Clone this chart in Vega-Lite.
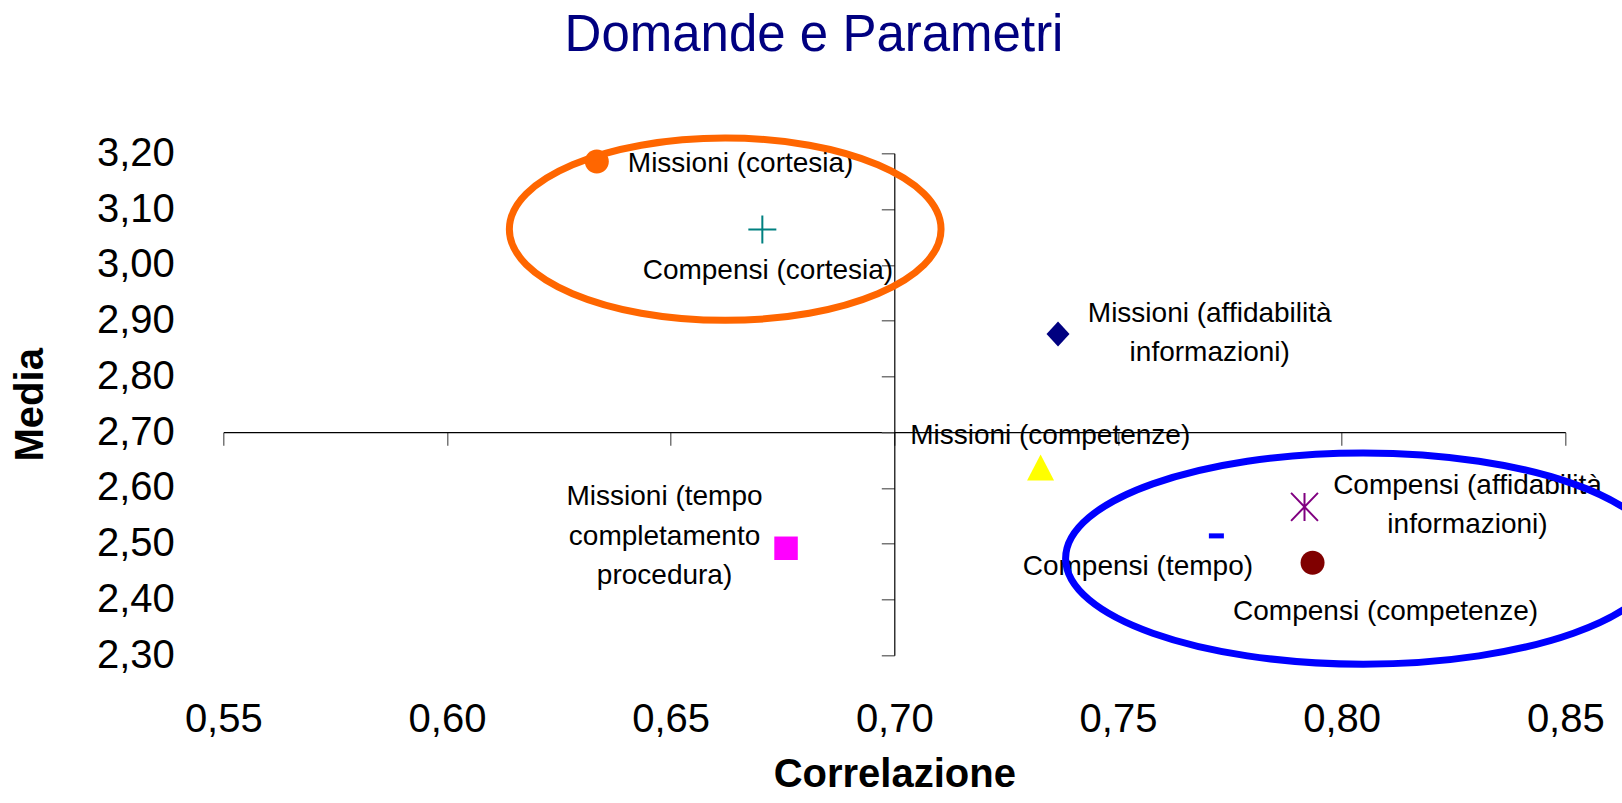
{
  "$schema": "https://vega.github.io/schema/vega-lite/v6.json",
  "width": 1342,
  "height": 502,
  "autosize": {"type": "none"},
  "padding": {"left": 223.3, "top": 153.3, "right": 56.7, "bottom": 147.7},
  "background": "white",
  "title": {
    "text": "Domande e Parametri",
    "font": "Liberation Sans",
    "fontSize": 51,
    "fontWeight": "normal",
    "color": "#000080",
    "frame": "group",
    "anchor": "middle",
    "dx": -80.3,
    "offset": 62
  },
  "config": {"view": {"stroke": null}, "axis": {"grid": false}},
  "datasets": {
    "punti": [
      {"id": "m_cortesia", "nome": "Missioni (cortesia)", "x": 0.6335, "y": 3.1855},
      {"id": "c_cortesia", "nome": "Compensi (cortesia)", "x": 0.6705, "y": 3.0632},
      {"id": "m_affidabilita", "nome": "Missioni (affidabilità\ninformazioni)", "x": 0.7366, "y": 2.8759},
      {"id": "m_competenze", "nome": "Missioni (competenze)", "x": 0.7327, "y": 2.6365},
      {"id": "m_tempo", "nome": "Missioni (tempo\ncompletamento\nprocedura)", "x": 0.6758, "y": 2.4919},
      {"id": "c_tempo", "nome": "Compensi (tempo)", "x": 0.772, "y": 2.5141},
      {"id": "c_affidabilita", "nome": "Compensi (affidabilità\ninformazioni)", "x": 0.7917, "y": 2.5661},
      {"id": "c_competenze", "nome": "Compensi (competenze)", "x": 0.7935, "y": 2.466}
    ],
    "anelli": [
      {"anello": "arancione", "x": 0.6622, "y": 3.0639},
      {"anello": "blu", "x": 0.8048, "y": 2.4735}
    ]
  },
  "data": {"name": "punti"},
  "encoding": {
    "x": {
      "field": "x",
      "type": "quantitative",
      "scale": {"domain": [0.55, 0.85], "nice": false, "zero": false},
      "axis": {
        "orient": "bottom",
        "offset": -223.1,
        "values": [0.55, 0.6, 0.65, 0.7, 0.75, 0.8, 0.85],
        "labelExpr": "replace(format(datum.value, '.2f'), '.', ',')",
        "labelFlush": false,
        "labelOverlap": false,
        "tickSize": 13,
        "tickColor": "#555555",
        "tickWidth": 1.2,
        "domainColor": "#000000",
        "domainWidth": 1.2,
        "labelPadding": 254,
        "labelFont": "Liberation Sans",
        "labelFontSize": 40,
        "labelColor": "#000000",
        "title": "Correlazione",
        "titleFont": "Liberation Sans",
        "titleFontSize": 40,
        "titleFontWeight": "bold",
        "titleColor": "#000000",
        "titleBaseline": "alphabetic",
        "titleY": 353.8,
        "grid": false
      }
    },
    "y": {
      "field": "y",
      "type": "quantitative",
      "scale": {"domain": [2.3, 3.2], "nice": false, "zero": false},
      "axis": {
        "orient": "left",
        "offset": -671,
        "values": [2.3, 2.4, 2.5, 2.6, 2.7, 2.8, 2.9, 3.0, 3.1, 3.2],
        "labelExpr": "replace(format(datum.value, '.2f'), '.', ',')",
        "labelFlush": false,
        "labelOverlap": false,
        "tickSize": 13,
        "tickColor": "#555555",
        "tickWidth": 1.2,
        "domainColor": "#000000",
        "domainWidth": 1.2,
        "labelPadding": 707,
        "labelFont": "Liberation Sans",
        "labelFontSize": 40,
        "labelColor": "#000000",
        "title": "Media",
        "titleFont": "Liberation Sans",
        "titleFontSize": 40,
        "titleFontWeight": "bold",
        "titleColor": "#000000",
        "titleAngle": 270,
        "titleBaseline": "alphabetic",
        "titleAlign": "center",
        "titleX": -851.6,
        "titleY": 251,
        "grid": false
      }
    }
  },
  "layer": [
    {
      "transform": [{"filter": "datum.id !== 'c_cortesia' && datum.id !== 'c_affidabilita'"}],
      "mark": {"type": "point", "filled": true, "strokeWidth": 0, "opacity": 1, "size": 784},
      "encoding": {
        "color": {"field": "id", "type": "nominal", "legend": null,
          "scale": {"domain": ["m_cortesia", "c_cortesia", "m_affidabilita", "m_competenze", "m_tempo", "c_tempo", "c_affidabilita", "c_competenze"],
                    "range": ["#FF6600", "#008080", "#000080", "#FFFF00", "#FF00FF", "#0000FF", "#800080", "#800000"]}},
        "shape": {"field": "id", "type": "nominal", "legend": null,
          "scale": {"domain": ["m_cortesia", "c_cortesia", "m_affidabilita", "m_competenze", "m_tempo", "c_tempo", "c_affidabilita", "c_competenze"],
                    "range": [
                      "M-0.857,0A0.857,0.857,0,1,1,0.857,0A0.857,0.857,0,1,1,-0.857,0Z",
                      "M-1,0L1,0M0,-1L0,1",
                      "M0,-0.893L0.821,0L0,0.893L-0.821,0Z",
                      "M0,-0.929L0.964,0.929L-0.964,0.929Z",
                      "M-0.839,-0.839L0.839,-0.839L0.839,0.839L-0.839,0.839Z",
                      "M-0.536,-0.18L0.536,-0.18L0.536,0.18L-0.536,0.18Z",
                      "M-0.96,-1L0.96,1M0.96,-1L-0.96,1M0,-1L0,1",
                      "M-0.857,0A0.857,0.857,0,1,1,0.857,0A0.857,0.857,0,1,1,-0.857,0Z"
                    ]}}
      }
    },
    {
      "transform": [{"filter": "datum.id === 'c_cortesia' || datum.id === 'c_affidabilita'"}],
      "mark": {"type": "point", "filled": false, "strokeWidth": 2, "opacity": 1, "size": 784},
      "encoding": {
        "color": {"field": "id", "type": "nominal", "legend": null},
        "shape": {"field": "id", "type": "nominal", "legend": null}
      }
    },
    {
      "transform": [{"filter": "datum.id === 'm_cortesia'"}],
      "mark": {"type": "text", "align": "left", "baseline": "middle", "dx": 31, "dy": 3, "font": "Liberation Sans", "fontSize": 28, "color": "#000000", "lineBreak": "\n", "lineHeight": 39},
      "encoding": {"text": {"field": "nome"}}
    },
    {
      "transform": [{"filter": "datum.id === 'c_cortesia'"}],
      "mark": {"type": "text", "align": "center", "baseline": "middle", "dx": 5.6, "dy": 41, "font": "Liberation Sans", "fontSize": 28, "color": "#000000", "lineBreak": "\n", "lineHeight": 39},
      "encoding": {"text": {"field": "nome"}}
    },
    {
      "transform": [{"filter": "datum.id === 'm_affidabilita'"}],
      "mark": {"type": "text", "align": "center", "baseline": "middle", "dx": 151.7, "dy": -20, "font": "Liberation Sans", "fontSize": 28, "color": "#000000", "lineBreak": "\n", "lineHeight": 39},
      "encoding": {"text": {"field": "nome"}}
    },
    {
      "transform": [{"filter": "datum.id === 'm_competenze'"}],
      "mark": {"type": "text", "align": "center", "baseline": "middle", "dx": 9.6, "dy": -31.5, "font": "Liberation Sans", "fontSize": 28, "color": "#000000", "lineBreak": "\n", "lineHeight": 39},
      "encoding": {"text": {"field": "nome"}}
    },
    {
      "transform": [{"filter": "datum.id === 'm_tempo'"}],
      "mark": {"type": "text", "align": "center", "baseline": "middle", "dx": -121.5, "dy": -51, "font": "Liberation Sans", "fontSize": 28, "color": "#000000", "lineBreak": "\n", "lineHeight": 39.5},
      "encoding": {"text": {"field": "nome"}}
    },
    {
      "transform": [{"filter": "datum.id === 'c_tempo'"}],
      "mark": {"type": "text", "align": "center", "baseline": "middle", "dx": -78.5, "dy": 31.5, "font": "Liberation Sans", "fontSize": 28, "color": "#000000", "lineBreak": "\n", "lineHeight": 39},
      "encoding": {"text": {"field": "nome"}}
    },
    {
      "transform": [{"filter": "datum.id === 'c_affidabilita'"}],
      "mark": {"type": "text", "align": "center", "baseline": "middle", "dx": 163, "dy": -20.5, "font": "Liberation Sans", "fontSize": 28, "color": "#000000", "lineBreak": "\n", "lineHeight": 39},
      "encoding": {"text": {"field": "nome"}}
    },
    {
      "transform": [{"filter": "datum.id === 'c_competenze'"}],
      "mark": {"type": "text", "align": "center", "baseline": "middle", "dx": 73, "dy": 49, "font": "Liberation Sans", "fontSize": 28, "color": "#000000", "lineBreak": "\n", "lineHeight": 39},
      "encoding": {"text": {"field": "nome"}}
    },
    {
      "data": {"name": "anelli"},
      "transform": [{"filter": "datum.anello === 'arancione'"}],
      "mark": {"type": "point", "shape": "M-1,0A1,0.4223,0,0,1,1,0A1,0.4223,0,0,1,-1,0Z", "size": 186365, "filled": false, "stroke": "#FF6600", "strokeWidth": 7, "opacity": 1}
    },
    {
      "data": {"name": "anelli"},
      "transform": [{"filter": "datum.anello === 'blu'"}],
      "mark": {"type": "point", "shape": "M-1,0A1,0.355,0,0,1,1,0A1,0.355,0,0,1,-1,0Z", "size": 354025, "filled": false, "stroke": "#0000FF", "strokeWidth": 7, "opacity": 1}
    }
  ]
}
